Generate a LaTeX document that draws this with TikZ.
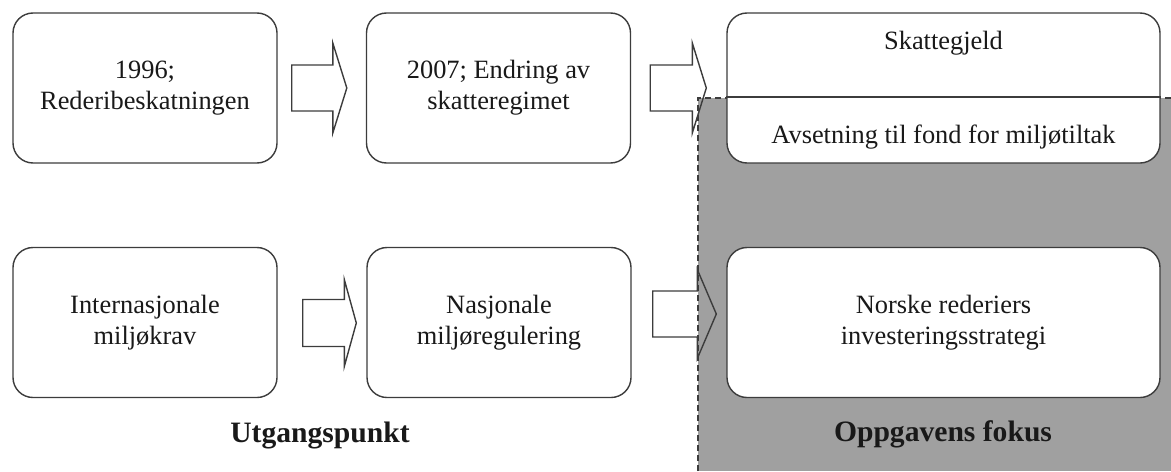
\documentclass[tikz,border=0pt]{standalone}
\usepackage{fontspec}
\setmainfont{Liberation Serif}
\usetikzlibrary{calc}

\definecolor{edge}{RGB}{60,60,60}
\definecolor{ink}{RGB}{25,25,25}
\definecolor{focusgrey}{RGB}{160,160,160}

\tikzset{
  stagebox/.style={draw=edge, line width=0.7pt, fill=white, rounded corners=10pt,
    minimum width=132pt, minimum height=75pt, inner sep=0pt, align=center,
    text=ink, font=\fontsize{13.2}{15.5}\selectfont},
  widebox/.style={stagebox, minimum width=216.5pt},
  boxtext/.style={inner sep=0pt, text=ink, font=\fontsize{13.2}{15.5}\selectfont},
  heading/.style={inner sep=0pt, text=ink, font=\fontsize{14.8}{17}\selectfont\bfseries},
  blockarrow/.style={draw=edge, line width=0.7pt, line join=miter},
  focusedge/.style={draw=edge, line width=0.6pt, dash pattern=on 3pt off 2pt},
}

% hollow block arrow from coordinate #1 to tip #2, head length #3,
% shaft half-height #4, head half-height #5
\newcommand\blockarrowdraw[5]{%
  \draw[blockarrow]
    ($(#1)+(0,-#4)$) -- ($(#2)+(-#3,-#4)$) -- ($(#2)+(-#3,-#5)$) -- (#2)
    -- ($(#2)+(-#3,#5)$) -- ($(#2)+(-#3,#4)$) -- ($(#1)+(0,#4)$) -- cycle;}

\begin{document}
\begin{tikzpicture}[x=0.5pt, y=-0.5pt]
\useasboundingbox (0,0) rectangle (1171,471);

% shaded focus area
\fill[focusgrey] (698,98) rectangle (1171,471);
\draw[focusedge] (698,471) -- (698,98) -- (1171,98);

% top row
\node[stagebox] (b1) at (145,88) {1996;\\Rederibeskatningen};
\node[stagebox] (b2) at (498.5,88) {2007; Endring av\\skatteregimet};
\node[widebox] (b3) at (943.5,88) {};
\draw[draw=edge, line width=0.7pt] ($(b3.west)+(0,9)$) -- ($(b3.east)+(0,9)$);
\node[boxtext] (b3a) at (943.5,43) {Skattegjeld};
\node[boxtext] (b3b) at (943.5,137) {Avsetning til fond for miljøtiltak};

% bottom row
\node[stagebox] (b4) at (145,322.5) {Internasjonale\\miljøkrav};
\node[stagebox] (b5) at (499,322.5) {Nasjonale\\miljøregulering};
\node[widebox] (b6) at (943.5,322.5) {Norske rederiers\\investeringsstrategi};

% block arrows
\coordinate (a1s) at ($(b1.east)+(14,0)$);
\coordinate (a1t) at ($(b2.west)+(-19,0)$);
\blockarrowdraw{a1s}{a1t}{14}{23}{45}
\coordinate (a2s) at ($(b2.east)+(19,0)$);
\coordinate (a2t) at ($(b3.west)+(-20,0)$);
\blockarrowdraw{a2s}{a2t}{14}{23}{45}
\coordinate (a3s) at ($(b4.east)+(25,0.5)$);
\coordinate (a3t) at ($(b5.west)+(-10,0.5)$);
\blockarrowdraw{a3s}{a3t}{12}{23.5}{43.5}
\coordinate (a4s) at ($(b5.east)+(21,-8.5)$);
\coordinate (a4t) at ($(b6.west)+(-10,-8.5)$);
\blockarrowdraw{a4s}{a4t}{19}{23}{44.5}

% headings
\node[heading] (h1) at (320,435) {Utgangspunkt};
\node[heading] (h2) at (943,434) {Oppgavens fokus};
\end{tikzpicture}
\end{document}
